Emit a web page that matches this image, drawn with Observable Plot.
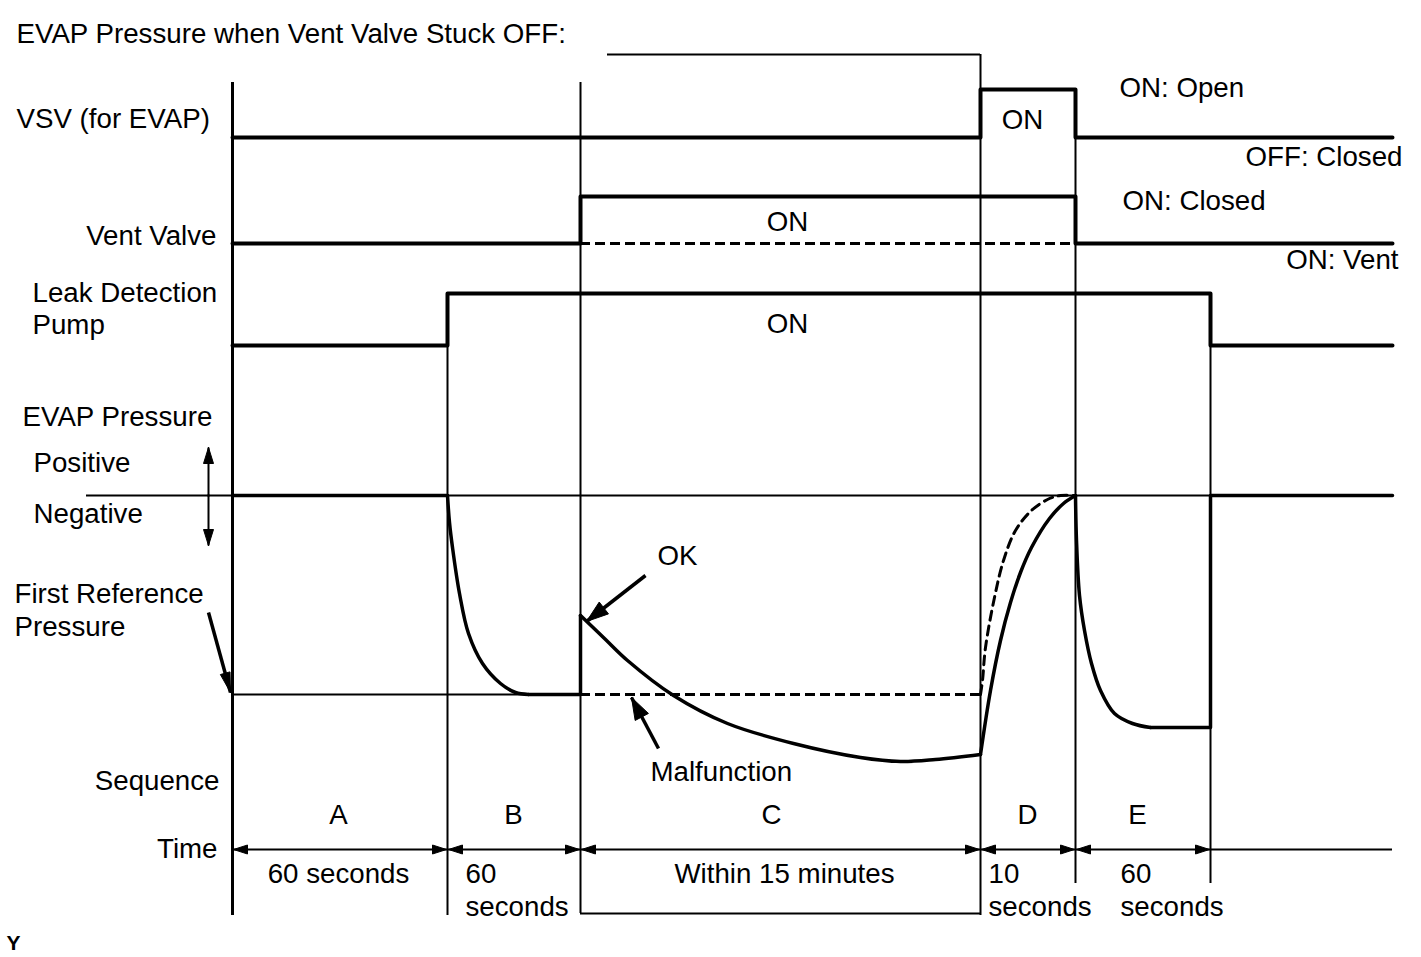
<!DOCTYPE html>
<html><head><meta charset="utf-8">
<script src="https://cdn.jsdelivr.net/npm/d3@7"></script>
<script src="https://cdn.jsdelivr.net/npm/@observablehq/plot@0.6"></script>
<style>body{margin:0;background:#fff} svg{display:block}</style>
</head><body><div id="chart"></div>
<script>
// ---- Data (diagram units) ----
const phases = ["A", "B", "C", "D", "E"];
const phaseEdges = [232, 447, 580, 980, 1075, 1210];
const timeEnd = 1392;
const durations = ["60 seconds", "60|seconds", "Within 15 minutes", "10|seconds", "60|seconds"];

// digital signals: transition times and states (0 = OFF, 1 = ON)
const signalNames = ["VSV (for EVAP)", "Vent Valve", "Leak Detection Pump"];
const signalTimes = [[232, 980, 1075, 1392], [232, 580, 1075, 1392], [232, 447, 1210, 1392]];
const signalStates = [[0, 1, 0, 0], [0, 1, 0, 0], [0, 1, 0, 0]];
const signalLow = [137, 243, 345];
const signalHigh = [89, 196, 293];

// EVAP pressure levels
const pressureZero = 495;
const firstReference = 694;
// solid pressure trace, piecewise (linear pieces and smooth pieces)
const pressureLinear = [
  [[232, 495], [447, 495]],
  [[528, 694], [580, 694], [580, 615]],
  [[1150, 727], [1210, 727], [1210, 495], [1392, 495]]
];
const pressureSmooth = [
  [[447, 495], [449, 522], [452, 547], [459, 593], [468, 633], [482, 663], [500, 683], [515, 692], [528, 694]],
  [[580, 615], [604, 638], [627, 660], [673, 695], [727, 723], [793, 743], [860, 757], [900, 761], [935, 759], [980, 754]],
  [[980, 754], [990, 690], [1000, 640], [1010, 602], [1020, 572], [1031, 547], [1049, 518], [1063, 503], [1075, 495]],
  [[1075, 495], [1076, 540], [1079, 595], [1084, 630], [1091, 663], [1100, 690], [1114, 713], [1132, 723], [1150, 727]]
];
// dashed "vent valve stuck" recovery
const pressureDashed = [[980, 694], [982, 680], [985, 647], [994, 597], [1003, 560], [1015, 530], [1031, 510], [1049, 498], [1060, 495], [1075, 495]];

// pointer arrows [from, to]
const pointerArrows = [
  {from: [645, 575], to: [586, 621], len: 22, half: 7.5, w: 3.5},   // OK
  {from: [658, 748], to: [631, 697], len: 22, half: 7.5, w: 3.5},   // Malfunction
  {from: [208, 612], to: [230, 692], len: 20, half: 5, w: 3.5},     // First Reference Pressure
  {from: [208, 496], to: [208, 447], len: 16, half: 5, w: 2},       // Positive
  {from: [208, 494], to: [208, 545], len: 16, half: 5, w: 2}        // Negative
];

const labels = [
  {text: "EVAP Pressure when Vent Valve Stuck OFF:", x: 16, y: 34, anchor: "start"},
  {text: "VSV (for EVAP)", x: 16, y: 119, anchor: "start"},
  {text: "Vent Valve", x: 216, y: 236, anchor: "end"},
  {text: "Leak Detection", x: 32, y: 293, anchor: "start"},
  {text: "Pump", x: 32, y: 325, anchor: "start"},
  {text: "EVAP Pressure", x: 22, y: 417, anchor: "start"},
  {text: "Positive", x: 33, y: 463, anchor: "start"},
  {text: "Negative", x: 33, y: 514, anchor: "start"},
  {text: "First Reference", x: 14, y: 594, anchor: "start"},
  {text: "Pressure", x: 14, y: 627, anchor: "start"},
  {text: "Sequence", x: 219, y: 781, anchor: "end"},
  {text: "Time", x: 217, y: 849, anchor: "end"},
  {text: "ON", x: 1022, y: 120, anchor: "middle"},
  {text: "ON: Open", x: 1119, y: 88, anchor: "start"},
  {text: "OFF: Closed", x: 1402, y: 157, anchor: "end"},
  {text: "ON", x: 787, y: 222, anchor: "middle"},
  {text: "ON: Closed", x: 1122, y: 201, anchor: "start"},
  {text: "ON: Vent", x: 1398, y: 260, anchor: "end"},
  {text: "ON", x: 787, y: 324, anchor: "middle"},
  {text: "OK", x: 657, y: 556, anchor: "start"},
  {text: "Malfunction", x: 650, y: 772, anchor: "start"}
];
const phaseLabelX = [338, 513, 771, 1027, 1137];
const durationX = [338, 465, 784, 988, 1120];
const durationAnchor = ["middle", "start", "middle", "start", "start"];

// ---- Derived tables ----
const signalData = signalNames.flatMap((name, i) =>
  signalTimes[i].map((t, j) => ({name, x: t, y: signalStates[i][j] ? signalHigh[i] : signalLow[i]})));

const toPts = (segs, tag) => segs.flatMap((s, i) => s.map(([x, y]) => ({id: tag + i, x, y})));

function head(x1, y1, x2, y2, len, half, id) {
  const dx = x2 - x1, dy = y2 - y1, d = Math.hypot(dx, dy), ux = dx / d, uy = dy / d;
  const bx = x2 - ux * len, by = y2 - uy * len;
  return [
    {id, x: x2, y: y2}, {id, x: bx - uy * half, y: by + ux * half},
    {id, x: bx + uy * half, y: by - ux * half}, {id, x: x2, y: y2}
  ];
}
const heads = [];
pointerArrows.forEach((a, i) => heads.push(...head(a.from[0], a.from[1], a.to[0], a.to[1], a.len, a.half, "p" + i)));
const timeY = 849;
phases.forEach((p, i) => {
  const a = phaseEdges[i], b = phaseEdges[i + 1], m = (a + b) / 2;
  heads.push(...head(m, timeY, a + 1, timeY, 14, 4.5, "tl" + i));
  heads.push(...head(m, timeY, b - 1, timeY, 14, 4.5, "tr" + i));
});

const durLabels = [];
durations.forEach((d, i) => {
  const parts = d.split("|");
  durLabels.push({text: parts[0], x: durationX[i], y: 874, anchor: durationAnchor[i]});
  if (parts[1]) durLabels.push({text: parts[1], x: durationX[i], y: 907, anchor: durationAnchor[i]});
});
const allLabels = labels.concat(durLabels, phases.map((p, i) => ({text: p, x: phaseLabelX[i], y: 815, anchor: "middle"})));

const vRules = [
  {x: 447, y1: 293, y2: 915}, {x: 580, y1: 82, y2: 913}, {x: 980, y1: 54, y2: 915},
  {x: 1075, y1: 89, y2: 883}, {x: 1210, y1: 293, y2: 883}
];
const hRules = [
  {y: pressureZero, x1: 86, x2: timeEnd}, {y: firstReference, x1: 232, x2: 580},
  {y: 54, x1: 607, x2: 980}, {y: 913, x1: 580, x2: 980}, {y: timeY, x1: 232, x2: timeEnd}
];

const font = "'Liberation Sans', Arial, Helvetica, sans-serif";
const textMarks = ["start", "middle", "end"].map(anchor =>
  Plot.text(allLabels.filter(d => d.anchor === anchor), {
    x: "x", y: "y", text: "text", textAnchor: anchor, lineAnchor: "middle",
    fontSize: 27.7, fontFamily: font, fill: "black"
  }));

const chart = Plot.plot({
  width: 1421, height: 957, margin: 0,
  x: {domain: [0, 1421], range: [0, 1421], axis: null},
  y: {domain: [0, 957], range: [0, 957], axis: null},
  style: {background: "white"},
  marks: [
    Plot.ruleX(vRules, {x: "x", y1: "y1", y2: "y2", stroke: "black", strokeWidth: 2}),
    Plot.ruleX([{x: 232, y1: 82, y2: 915}], {x: "x", y1: "y1", y2: "y2", stroke: "black", strokeWidth: 3}),
    Plot.ruleY(hRules, {y: "y", x1: "x1", x2: "x2", stroke: "black", strokeWidth: 2}),
    Plot.ruleY([{y: 243, x1: 580, x2: 1075}], {y: "y", x1: "x1", x2: "x2", stroke: "black", strokeWidth: 3, strokeDasharray: "10,5"}),
    Plot.ruleY([{y: firstReference, x1: 580, x2: 980}], {y: "y", x1: "x1", x2: "x2", stroke: "black", strokeWidth: 3, strokeDasharray: "10,5"}),
    Plot.line(signalData, {x: "x", y: "y", z: "name", curve: "step-after", stroke: "black", strokeWidth: 4}),
    Plot.line(toPts(pressureLinear, "l"), {x: "x", y: "y", z: "id", stroke: "black", strokeWidth: 3.5}),
    Plot.line(toPts(pressureSmooth, "s"), {x: "x", y: "y", z: "id", curve: "catmull-rom", stroke: "black", strokeWidth: 3.5}),
    Plot.line(pressureDashed, {x: d => d[0], y: d => d[1], curve: "catmull-rom", stroke: "black", strokeWidth: 3, strokeDasharray: "9,6"}),
    Plot.link(pointerArrows, {x1: d => d.from[0], y1: d => d.from[1], x2: d => d.to[0], y2: d => d.to[1], stroke: "black", strokeWidth: d => d.w}),
    Plot.line(heads, {x: "x", y: "y", z: "id", fill: "black", stroke: "black", strokeWidth: 1}),
    ...textMarks,
    Plot.text([{text: "Y", x: 6, y: 943}], {x: "x", y: "y", text: "text", textAnchor: "start", lineAnchor: "middle", fontSize: 21, fontWeight: "bold", fontFamily: font, fill: "black"})
  ]
});
document.getElementById("chart").appendChild(chart);
</script></body></html>
